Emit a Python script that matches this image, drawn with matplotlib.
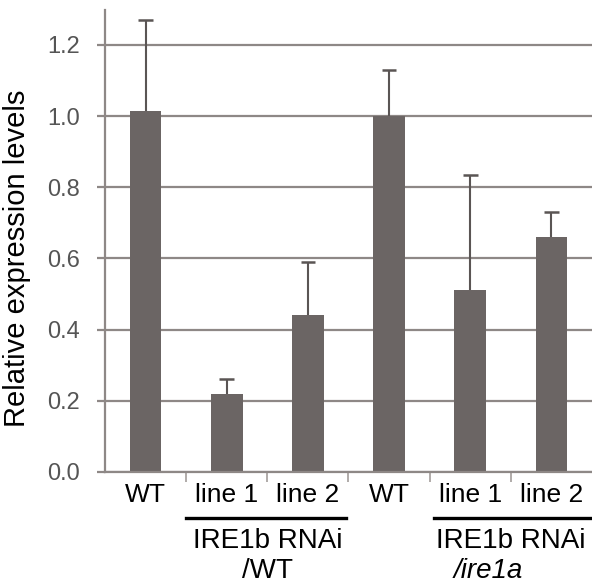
import matplotlib.pyplot as plt
import matplotlib.transforms as mtransforms

plt.rcParams['font.family'] = ['Liberation Sans', 'DejaVu Sans']

labels = ['WT', 'line 1', 'line 2', 'WT', 'line 1', 'line 2']
values = [1.015, 0.22, 0.44, 1.0, 0.51, 0.66]
err_up = [0.255, 0.04, 0.15, 0.13, 0.325, 0.07]
yticks = [0.0, 0.2, 0.4, 0.6, 0.8, 1.0, 1.2]

bar_col = '#6b6564'
grid_col = '#8e8886'
err_col = '#5a5554'

fig = plt.figure(figsize=(5.92, 5.86), dpi=100)
ax = fig.add_axes([105/592, 1 - 472/586, 487/592, 462/586])

x = list(range(len(values)))
tops = [v + e for v, e in zip(values, err_up)]
ax.set_axisbelow(True)
ax.yaxis.grid(True, color=grid_col, linewidth=1.6)
ax.bar(x, values, width=0.39, color=bar_col, zorder=2)
# one-sided error bars (upper only)
ax.vlines(x, values, tops, color=err_col, linewidth=1.5, zorder=3)
ax.hlines(tops, [i - 0.09 for i in x], [i + 0.09 for i in x],
          color=err_col, linewidth=1.8, zorder=3)

ax.set_xlim(-0.5, 5.5)
ax.set_ylim(0, 1.298)
ax.set_yticks(yticks)
ax.set_yticklabels(['%.1f' % v for v in yticks], fontsize=17, color='#555555')
ax.tick_params(axis='y', length=6, width=1.6, color=grid_col, pad=12)

ax.set_xticks(x)
ax.set_xticklabels(labels, fontsize=19)
ax.tick_params(axis='x', which='major', length=0, pad=8)
ax.set_xticks([i - 0.5 for i in range(1, 6)], minor=True)
ax.tick_params(axis='x', which='minor', length=7, width=1.3, color='#aaa5a3')

for s in ['top', 'right']:
    ax.spines[s].set_visible(False)
ax.spines['left'].set_color(grid_col)
ax.spines['left'].set_linewidth(1.6)
ax.spines['bottom'].set_color(grid_col)
ax.spines['bottom'].set_linewidth(1.6)

ax.set_ylabel('Relative expression levels', fontsize=21)
ax.yaxis.set_label_coords(-0.152, 0.463)

trans = mtransforms.blended_transform_factory(ax.transData, ax.transAxes)
ax.plot([0.5, 2.47], [-0.0996, -0.0996], transform=trans, color='black',
        linewidth=2.4, clip_on=False)
ax.plot([3.55, 5.5], [-0.0996, -0.0996], transform=trans, color='black',
        linewidth=2.4, clip_on=False)
ax.text(1.5, -0.122, 'IRE1b RNAi', transform=trans, ha='center', va='top', fontsize=20)
ax.text(1.5, -0.187, '/WT', transform=trans, ha='center', va='top', fontsize=20)
ax.text(4.5, -0.122, 'IRE1b RNAi', transform=trans, ha='center', va='top', fontsize=20)
ax.text(4.22, -0.187, '/ire1a', transform=trans, ha='center', va='top', fontsize=20,
        style='italic')

fig.savefig('out.png', dpi=100)
